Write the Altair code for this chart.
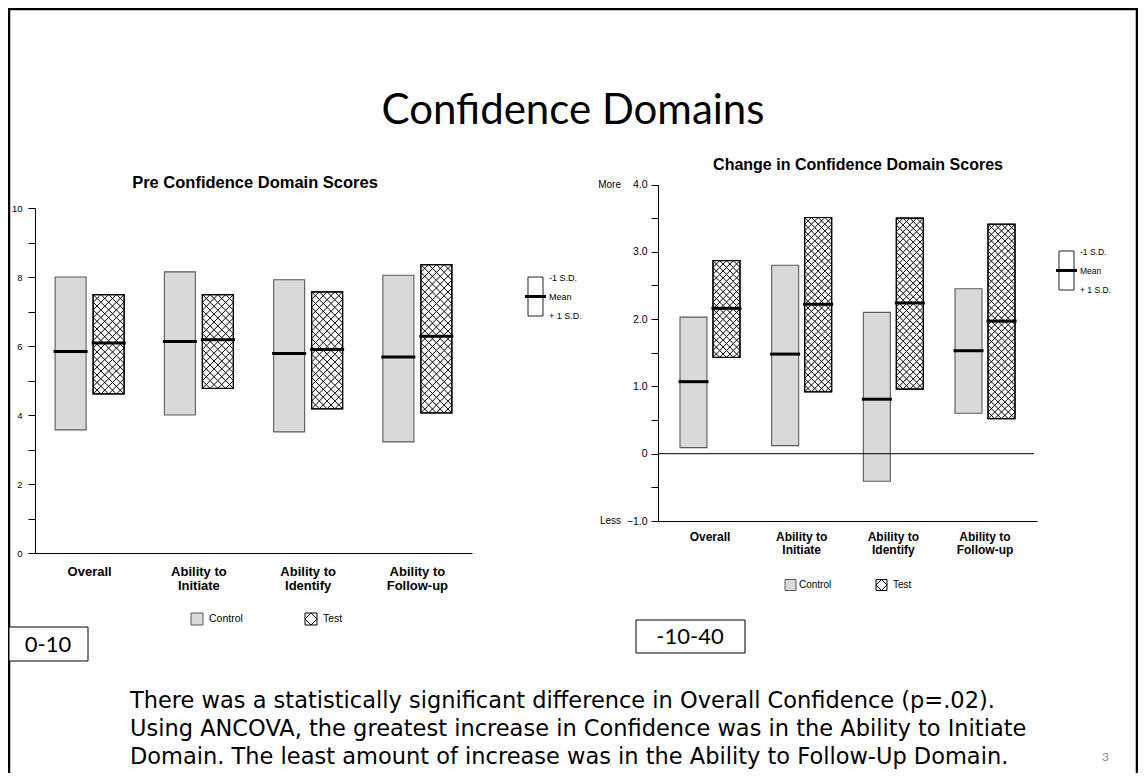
import altair as alt
import pandas as pd

# ---------------- data ----------------
categories = ["Overall", "Ability to Initiate", "Ability to Identify", "Ability to Follow-up"]
groups = ["Control", "Test"]

pre_control_low = [3.57, 4.00, 3.51, 3.22]
pre_control_mean = [5.84, 6.13, 5.78, 5.68]
pre_control_high = [8.00, 8.15, 7.92, 8.05]
pre_test_low = [4.61, 4.77, 4.18, 4.06]
pre_test_mean = [6.09, 6.18, 5.90, 6.28]
pre_test_high = [7.49, 7.49, 7.57, 8.36]

chg_control_low = [0.09, 0.12, -0.41, 0.60]
chg_control_mean = [1.07, 1.48, 0.81, 1.53]
chg_control_high = [2.03, 2.80, 2.10, 2.45]
chg_test_low = [1.43, 0.92, 0.96, 0.52]
chg_test_mean = [2.16, 2.22, 2.24, 1.97]
chg_test_high = [2.87, 3.51, 3.50, 3.41]

pre_tick_values = [0, 1, 2, 3, 4, 5, 6, 7, 8, 9, 10]
chg_tick_values = [-1.0, -0.5, 0.0, 0.5, 1.0, 1.5, 2.0, 2.5, 3.0, 3.5, 4.0]
chg_end_labels = ["More", "Less"]
chg_end_values = [4.0, -1.0]

slide_title = "Confidence Domains"
pre_title = "Pre Confidence Domain Scores"
chg_title = "Change in Confidence Domain Scores"
sd_labels = ["-1 S.D.", "Mean", "+ 1 S.D."]
range_notes = ["0-10", "-10-40"]
note_lines = [
    "There was a statistically significant difference in Overall Confidence (p=.02).",
    "Using ANCOVA, the greatest increase in Confidence was in the Ability to Initiate",
    "Domain. The least amount of increase was in the Ability to Follow-Up Domain.",
]
page_number = "3"


def frame_of(cl, cm, ch, tl, tm, th):
    rows = []
    for i, c in enumerate(categories):
        rows.append({"cat": c, "grp": "Control", "lo": cl[i], "mean": cm[i], "hi": ch[i]})
        rows.append({"cat": c, "grp": "Test", "lo": tl[i], "mean": tm[i], "hi": th[i]})
    return pd.DataFrame(rows)


pre_df = frame_of(pre_control_low, pre_control_mean, pre_control_high,
                  pre_test_low, pre_test_mean, pre_test_high)
chg_df = frame_of(chg_control_low, chg_control_mean, chg_control_high,
                  chg_test_low, chg_test_mean, chg_test_high)

# ---------------- layout helpers ----------------
W, H = 1130, 765
P = 8  # page margin: page px -> plot px
ARIAL = "Liberation Sans"
SLIDE = "Lato"
BODY = "DejaVu Sans"
XPATH = "M-1,-1L1,1M-1,1L1,-1"
DIAMOND = "M0,-1L1,0L0,1L-1,0Z"
CTRL_FILL = "#d9d9d9"
CTRL_STROKE = "#5a5a5a"

fill_scale = alt.Scale(domain=groups, range=[CTRL_FILL, "#ffffff"])
stroke_scale = alt.Scale(domain=groups, range=[CTRL_STROKE, "#000000"])

XLABEL = ("indexof(datum.value, 'Ability to ') == 0 ? "
          "['Ability to', slice(datum.value, 11)] : datum.value")


def panel(df, ydom, ytop, ybot, xl, xr, xpo, barw, gap, ncols, yvalues, ylabel_expr,
          ylab_size, ylab_pad, xlab_size, xlab_pad, xlab_lh, extra=()):
    x0, x1 = xl - P, xr - P
    yb, yt = ybot - P, ytop - P
    n = len(categories)
    step = (x1 - x0) / (n + 2 * xpo)
    pair = 2 * barw + gap
    o0 = (step - pair) / 2
    ppu = (yb - yt) / (ydom[1] - ydom[0])
    pitch = barw / ncols
    rowstep = pitch / ppu

    xaxis = alt.Axis(orient="bottom", offset=yb - H, ticks=False, domainColor="black",
                     domainWidth=1, labelAngle=0, labelFont=ARIAL, labelFontWeight="bold",
                     labelFontSize=xlab_size, labelColor="black", labelPadding=xlab_pad,
                     labelLineHeight=xlab_lh, labelExpr=XLABEL, title=None,
                     labelBaseline="top", labelOverlap=False)
    yaxis = alt.Axis(orient="left", offset=-x0, values=yvalues, labelExpr=ylabel_expr,
                     tickSize=7, tickColor="black", tickWidth=1, domainColor="black",
                     domainWidth=1, labelFont=ARIAL, labelFontSize=ylab_size,
                     labelColor="black", labelPadding=ylab_pad, grid=False, title=None,
                     labelOverlap=False)
    xs = alt.Scale(domain=categories, range=[x0, x1], paddingInner=0, paddingOuter=xpo)
    xos = alt.Scale(domain=groups, range=[o0, o0 + pair], paddingInner=gap / (barw + gap),
                    paddingOuter=0)
    ys = alt.Scale(domain=ydom, range=[yb, yt], nice=False, zero=False)

    X = alt.X("cat:N", scale=xs, axis=xaxis, sort=categories)
    XO = alt.XOffset("grp:N", scale=xos, sort=groups)

    bars = alt.Chart(df).mark_bar(strokeWidth=1.1).encode(
        x=X, xOffset=XO,
        y=alt.Y("lo:Q", scale=ys, axis=yaxis), y2="hi:Q",
        fill=alt.Fill("grp:N", scale=fill_scale, legend=None),
        stroke=alt.Stroke("grp:N", scale=stroke_scale, legend=None),
    )

    test_df = df[df["grp"] == "Test"]
    hatch_base = (
        alt.Chart(test_df)
        .transform_calculate(n=f"max(1, round((datum.hi - datum.lo) / {rowstep}))")
        .transform_calculate(rows="sequence(0, datum.n)")
        .transform_flatten(["rows"], as_=["row"])
        .transform_calculate(yy="datum.lo + (datum.row + 0.5) * (datum.hi - datum.lo) / datum.n")
    )
    hatch_layers = []
    for j in range(ncols):
        bp = (o0 + barw + gap + pitch * (j + 0.5)) / step
        hatch_layers.append(
            hatch_base.mark_point(shape=XPATH, size=pitch * pitch, filled=False,
                                  color="black", strokeWidth=1.0, opacity=1).encode(
                x=alt.X("cat:N", scale=xs, axis=xaxis, sort=categories, bandPosition=bp),
                y=alt.Y("yy:Q", scale=ys, axis=yaxis),
            )
        )

    outline = alt.Chart(test_df).mark_bar(fillOpacity=0, stroke="black", strokeWidth=1.2).encode(
        x=X, xOffset=XO, y=alt.Y("lo:Q", scale=ys, axis=yaxis), y2="hi:Q",
    )

    means = alt.Chart(df).mark_tick(thickness=3, size=barw + 3, color="black", opacity=1).encode(
        x=X, xOffset=XO, y=alt.Y("mean:Q", scale=ys, axis=yaxis),
    )

    layers = [bars] + hatch_layers + [outline, means]
    for fn in extra:
        layers.append(fn(ys, yaxis, x0))
    return alt.layer(*layers)


def one():
    return pd.DataFrame({"k": [0]})


def label(text, x, y, size, font=ARIAL, weight="normal", align="left",
          baseline="middle", color="black"):
    return alt.Chart(pd.DataFrame({"t": [text]})).mark_text(
        font=font, fontSize=size, fontWeight=weight, align=align, baseline=baseline,
        color=color).encode(x=alt.value(x - P), y=alt.value(y - P), text="t:N")


def box(xa, ya, xb, yb, fill="white", stroke="black", sw=1.0):
    return alt.Chart(one()).mark_rect(fill=fill, stroke=stroke, strokeWidth=sw).encode(
        x=alt.value(xa - P), x2=alt.value(xb - P), y=alt.value(ya - P), y2=alt.value(yb - P))


def hline(xa, xb, y, sw=1.0, color="black"):
    return alt.Chart(one()).mark_rule(color=color, strokeWidth=sw).encode(
        x=alt.value(xa - P), x2=alt.value(xb - P), y=alt.value(y - P))


def vline(x, ya, yb, sw=1.0, color="black"):
    return alt.Chart(one()).mark_rule(color=color, strokeWidth=sw).encode(
        x=alt.value(x - P), y=alt.value(ya - P), y2=alt.value(yb - P))


def symbol(x, y, size, shape, color="black", sw=1.0):
    return alt.Chart(one()).mark_point(shape=shape, size=size, filled=False, color=color,
                                       strokeWidth=sw, opacity=1).encode(
        x=alt.value(x - P), y=alt.value(y - P))


# extras for the change panel: zero line and More/Less labels
def zero_line(ys, yaxis, x0):
    return alt.Chart(pd.DataFrame({"v": [0.0]})).mark_rule(color="black", strokeWidth=1).encode(
        y=alt.Y("v:Q", scale=ys, axis=yaxis), x=alt.value(x0), x2=alt.value(1034 - P))


def end_labels(ys, yaxis, x0):
    return alt.Chart(pd.DataFrame({"t": chg_end_labels, "v": chg_end_values})).mark_text(
        font=ARIAL, fontSize=10, align="right", baseline="middle", color="black").encode(
        y=alt.Y("v:Q", scale=ys, axis=yaxis), x=alt.value(621 - P), text="t:N")


left = panel(pre_df, [0, 10], 208, 553, 35, 472, 0.0, 31, 7, 4, pre_tick_values,
             "datum.value % 2 == 0 ? datum.label : ''", 9.5, 6, 13, 12, 14)
right = panel(chg_df, [-1, 4], 184.5, 521, 658, 1037, 0.067, 27, 6, 4, chg_tick_values,
              "datum.value == 0 ? '0' : (datum.value % 1 == 0 ? format(datum.value, '.1f') : '')",
              10.5, 4, 12, 10, 13, extra=(zero_line, end_labels))


def sd_legend(xa, xb, ytop, ybot, tx, size):
    ymid = (ytop + ybot) / 2
    return [
        box(xa, ytop, xb, ybot, fill="white", stroke="#222222", sw=1),
        hline(xa - 3, xb + 3, ymid, sw=3),
        label(sd_labels[0], tx, ytop + 1, size),
        label(sd_labels[1], tx, ymid, size),
        label(sd_labels[2], tx, ybot, size),
    ]


def group_legend(cx, cy, tx_ctrl, test_x, tx_test, side, size):
    h = side / 2
    return [
        box(cx - h, cy - h, cx + h, cy + h, fill=CTRL_FILL, stroke=CTRL_STROKE, sw=1),
        label(groups[0], tx_ctrl, cy, size),
        box(test_x - h, cy - h, test_x + h, cy + h, fill="white", stroke="black", sw=1),
        symbol(test_x, cy, side * side, DIAMOND, sw=1),
        label(groups[1], tx_test, cy, size),
    ]


annotations = (
    [
        vline(9, 8, 781, sw=2.5),
        hline(8, 1138, 9, sw=2.5),
        vline(1137, 8, 781, sw=2.5),
        label(slide_title, 573, 124, 42, font=SLIDE, align="center", baseline="alphabetic"),
        label(pre_title, 255, 188, 16.5, weight="bold", align="center", baseline="alphabetic"),
        label(chg_title, 858, 170, 16, weight="bold", align="center", baseline="alphabetic"),
    ]
    + sd_legend(528, 543, 277, 316, 549, 9)
    + sd_legend(1059, 1074, 251, 290, 1080, 8.5)
    + group_legend(197, 619, 209, 311, 323, 12, 10.5)
    + group_legend(790.5, 585, 799, 881.5, 893, 11, 10)
    + [
        box(9, 627, 88, 661, fill="white", stroke="black", sw=1),
        label(range_notes[0], 48, 645, 22, font=SLIDE, align="center"),
        box(636, 620, 745, 653, fill="white", stroke="black", sw=1),
        label(range_notes[1], 690, 637, 22, font=SLIDE, align="center"),
    ]
    + [label(t, 130, yy, 22.5, font=BODY) for t, yy in zip(note_lines, [701, 729, 757])]
    + [label(page_number, 1102, 757, 12, font=SLIDE, color="#8c8c8c")]
)

chart = (
    alt.layer(left, right, *annotations)
    .resolve_scale(x="independent", y="independent", xOffset="independent")
    .properties(width=W, height=H, autosize=alt.AutoSizeParams(type="none"), padding=0,
                background="white")
    .configure_view(stroke=None)
)

chart.save("out.html", embed_options={"renderer": "svg", "actions": False})
